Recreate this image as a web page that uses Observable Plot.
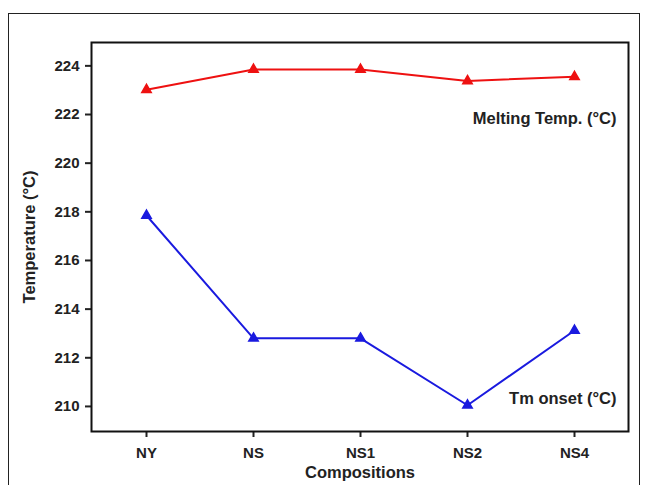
<!DOCTYPE html>
<html>
<head>
<meta charset="utf-8">
<script src="https://cdn.jsdelivr.net/npm/d3@7"></script>
<script src="https://cdn.jsdelivr.net/npm/@observablehq/plot@0.6"></script>
<style>
  html, body { margin: 0; padding: 0; background: #fff; }
  #wrap { position: relative; width: 652px; height: 485px; overflow: hidden; }
  #border { position: absolute; left: 8px; top: 13px; width: 632px; height: 500px; border: 1.5px solid #222; box-sizing: border-box; }
  #chart { position: absolute; left: 0; top: 0; }
  svg { font-family: "Liberation Sans", Arial, sans-serif; }
</style>
</head>
<body>
<div id="wrap"><div id="border"></div><div id="chart"></div></div>
<script>
const compositions = ["NY", "NS", "NS1", "NS2", "NS4"];
const meltingTemp = [223.02, 223.85, 223.85, 223.38, 223.55];
const tmOnset = [217.85, 212.8, 212.8, 210.05, 213.12];
const yTicks = [210, 212, 214, 216, 218, 220, 222, 224];

const melt = compositions.map((c, i) => ({c, v: meltingTemp[i]}));
const onset = compositions.map((c, i) => ({c, v: tmOnset[i]}));

const red = "#ee1111";
const blue = "#1a1adf";

const chart = Plot.plot({
  width: 652,
  height: 485,
  marginLeft: 91,
  marginRight: 24,
  marginTop: 42,
  marginBottom: 54,
  style: {fontFamily: "'Liberation Sans', Arial, sans-serif", fontSize: "15px", fontWeight: "bold", background: "transparent", color: "#222"},
  x: {type: "point", domain: compositions, padding: 0.5},
  y: {domain: [208.97, 224.96]},
  marks: [
    Plot.axisX({tickSize: 6, tickPadding: 10, label: "Compositions", labelAnchor: "center", labelArrow: "none", labelOffset: 46, fontWeight: "bold", fontSize: 15, strokeWidth: 2}),
    Plot.axisY({ticks: yTicks, tickSize: 6, tickPadding: 6, label: "Temperature (°C)", labelAnchor: "center", labelArrow: "none", labelOffset: 68, fontWeight: "bold", fontSize: 15, strokeWidth: 2}),
    Plot.frame({stroke: "#111", strokeWidth: 2}),
    Plot.line(melt, {x: "c", y: "v", stroke: red, strokeWidth: 2}),
    Plot.dot(melt, {x: "c", y: "v", symbol: "triangle", r: 3.5, fill: red, stroke: red}),
    Plot.line(onset, {x: "c", y: "v", stroke: blue, strokeWidth: 2}),
    Plot.dot(onset, {x: "c", y: "v", symbol: "triangle", r: 3.5, fill: blue, stroke: blue}),
    Plot.text(["Melting Temp. (°C)"], {frameAnchor: "top-right", dx: -12, dy: 70, textAnchor: "end", fontSize: 16.5, fontWeight: "bold", fill: "#222"}),
    Plot.text(["Tm onset (°C)"], {frameAnchor: "bottom-right", dx: -12, dy: -28, textAnchor: "end", fontSize: 16.5, fontWeight: "bold", fill: "#222"})
  ]
});
// enlarge axis titles to match reference
chart.querySelectorAll("g[aria-label='x-axis label'] text, g[aria-label='y-axis label'] text").forEach(t => t.setAttribute("font-size", "16.5"));
document.getElementById("chart").appendChild(chart);
</script>
</body>
</html>
